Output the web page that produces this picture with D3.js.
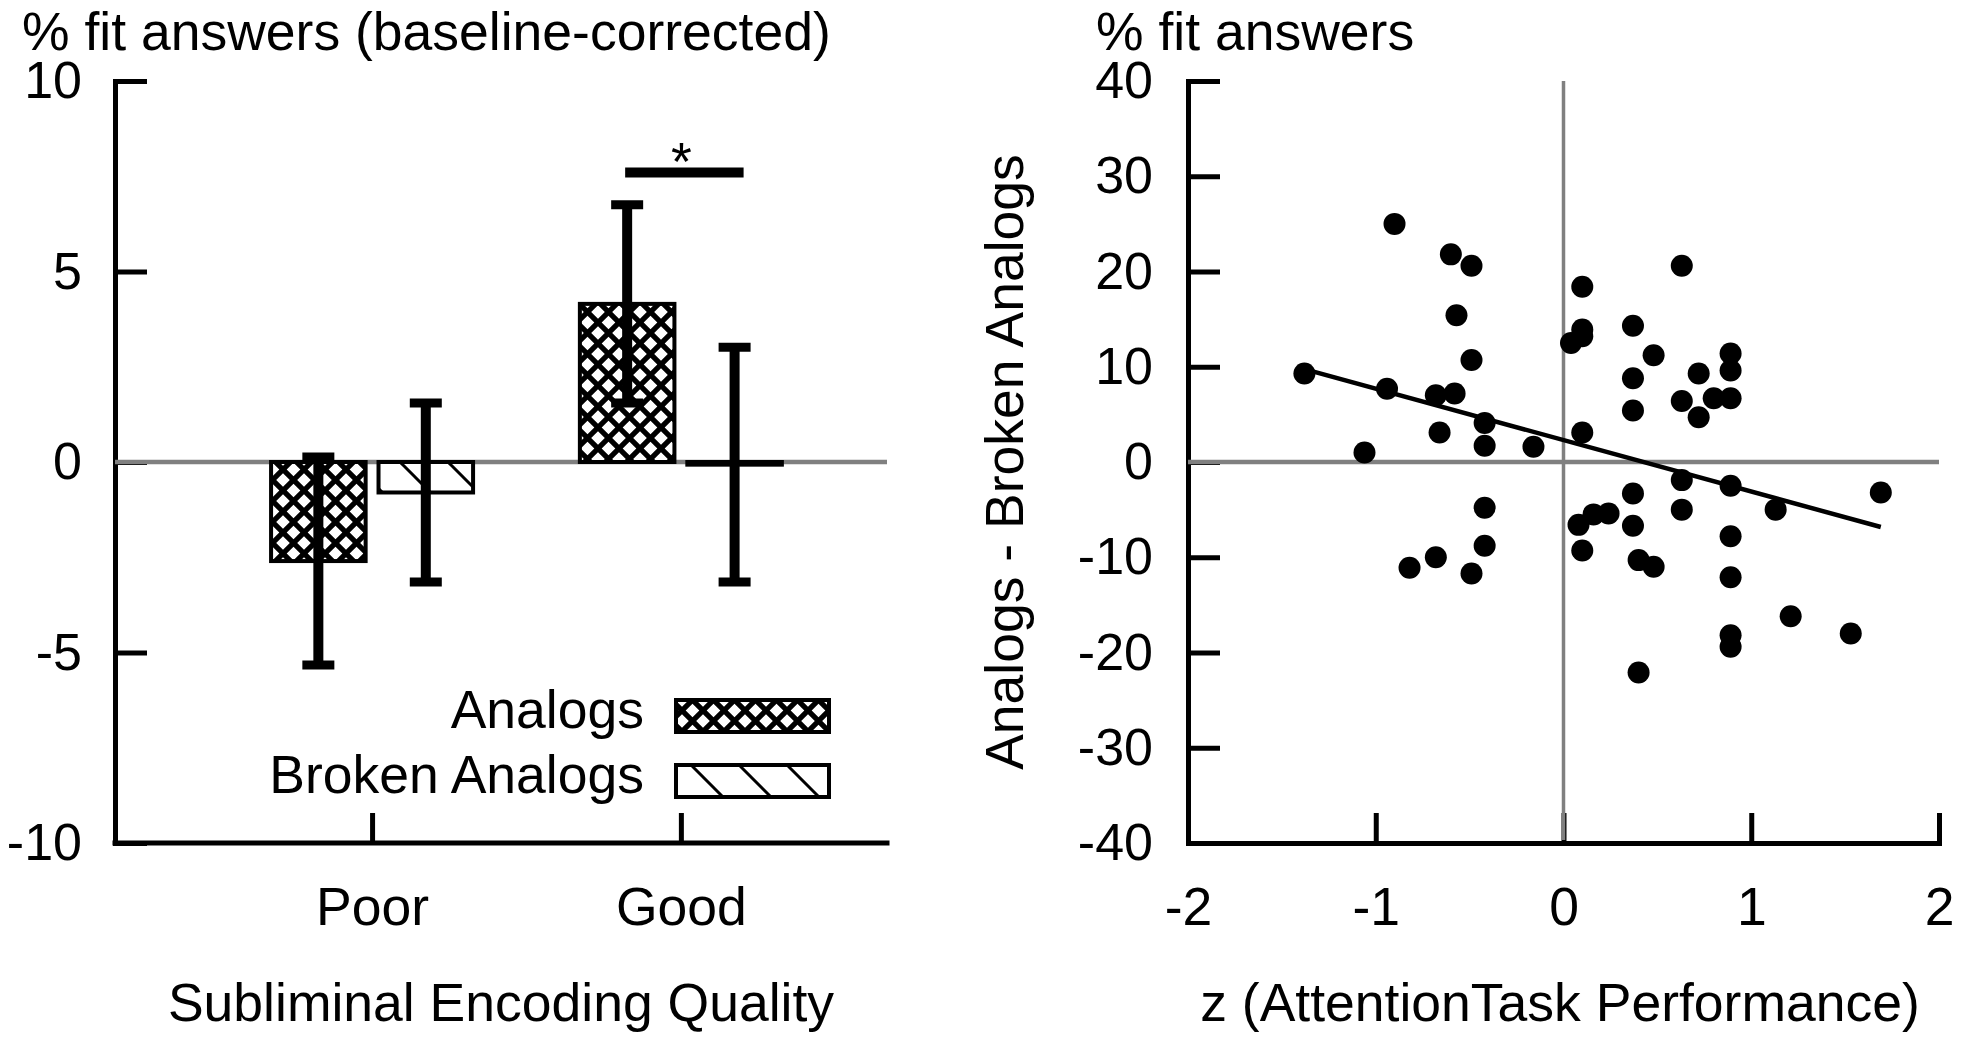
<!DOCTYPE html>
<html>
<head>
<meta charset="utf-8">
<script src="https://cdn.jsdelivr.net/npm/d3@7"></script>
<style>
	body { margin: 0; background: #fff; }
	svg text { font-family: 'Liberation Sans', Arial, sans-serif; font-size: 53.5px; fill: #000; }
	svg .y-ticks text { font-size: 52px; }
</style>
</head>
<body>
<svg id="chart"></svg>
<script>
// left panel: baseline-corrected % fit answers by encoding quality
const categories = ['Poor', 'Good']
const series = ['Analogs', 'Broken Analogs']
const analogMeans = [-2.6, 4.15]
const analogErrors = [2.73, 2.6]
const brokenMeans = [-0.8, -0.07]
const brokenErrors = [2.35, 3.08]
const barTicks = [-10, -5, 0, 5, 10]
const sigLevel = 7.6

// right panel: attention z-score vs Analogs minus Broken Analogs
const zScores = [
	-1.38, -0.9, -0.6, -0.49, -0.57, -0.49, -0.94, -0.68, -0.58, -0.66,
	-0.42, -0.42, -0.16, -1.06, -0.42, -0.42, -0.68, -0.82, -0.49,
	0.1, 0.1, 0.1, 0.04, 0.37, 0.63, 0.48, 0.37, 0.37, 0.89, 0.89,
	0.72, 0.63, 0.8, 0.89, 0.72, 0.1, 0.63, 0.89, 0.37, 0.63,
	1.13, 1.69, 0.24, 0.16, 0.08, 0.37, 0.1, 0.89, 0.4, 0.48,
	0.89, 1.21, 1.53, 0.89, 0.89, 0.4
]
const fitDiffs = [
	9.3, 25.0, 21.8, 20.6, 15.4, 10.7, 7.7, 7.0, 7.2, 3.1,
	4.1, 1.7, 1.6, 1.0, -4.8, -8.8, -10.0, -11.1, -11.7,
	18.4, 13.9, 13.2, 12.5, 14.3, 20.6, 11.2, 8.8, 5.4, 11.4, 9.6,
	9.3, 6.4, 6.7, 6.7, 4.7, 3.1, -1.9, -2.5, -3.3, -5.0,
	-5.0, -3.2, -5.4, -5.5, -6.6, -6.7, -9.3, -7.8, -10.3, -11.0,
	-12.1, -16.2, -18.0, -18.2, -19.4, -22.1
]
const fitSlope = -5.4
const fitIntercept = 2.3
const scatterXTicks = [-2, -1, 0, 1, 2]
const scatterYTicks = [-40, -30, -20, -10, 0, 10, 20, 30, 40]

const W = 1961
const H = 1043
const leftBox = { x: 115, y: 81, w: 772, h: 762 }
const rightBox = { x: 1188, y: 81, w: 751, h: 762 }
const GREY = '#808080'

const svg = d3.select('#chart').attr('width', W).attr('height', H)

const defs = svg.append('defs')

// white diamonds on black = the cross-hatch fill
const cross = defs.append('pattern')
	.attr('id', 'crossHatch')
	.attr('patternUnits', 'userSpaceOnUse')
	.attr('width', 21)
	.attr('height', 21)
cross.append('rect').attr('width', 21).attr('height', 21).attr('fill', '#000')
const diamond = (cx, cy, h) => `M${cx - h},${cy} L${cx},${cy - h} L${cx + h},${cy} L${cx},${cy + h} Z`
cross.append('path')
	.attr('fill', '#fff')
	.attr('d', [[10.5, 10.5], [0, 0], [21, 0], [0, 21], [21, 21]].map(p => diamond(p[0], p[1], 6.8)).join(' '))

const diag = defs.append('pattern')
	.attr('id', 'diagHatch')
	.attr('patternUnits', 'userSpaceOnUse')
	.attr('width', 48)
	.attr('height', 48)
diag.append('rect').attr('width', 48).attr('height', 48).attr('fill', '#fff')
diag.append('path')
	.attr('d', 'M-4,-4 L52,52 M-4,44 L4,52 M44,-4 L52,4')
	.attr('stroke', '#000')
	.attr('stroke-width', 3)

const fills = { 'Analogs': 'url(#crossHatch)', 'Broken Analogs': 'url(#diagHatch)' }

function styleAxis(g) {
	g.select('.domain').attr('stroke-width', 5).attr('stroke-linecap', 'square')
	g.selectAll('.tick line').attr('stroke-width', 5)
	g.attr('font-size', null).attr('font-family', null)
}

// ---------- left panel ----------
const lp = svg.append('g').attr('transform', `translate(${leftBox.x},${leftBox.y})`)

const xCat = d3.scalePoint()
	.domain(categories)
	.range([leftBox.w * 0.333, leftBox.w * 0.733])
const xSub = d3.scaleBand()
	.domain(series)
	.range([-101, 101])
	.paddingInner(0.12)
const yBar = d3.scaleLinear().domain([-10, 10]).range([leftBox.h, 0])

lp.append('g')
	.attr('class', 'y-ticks')
	.call(d3.axisLeft(yBar).tickValues(barTicks).tickFormat(d => String(d))
		.tickSizeInner(-32).tickSizeOuter(0).tickPadding(33))
	.call(styleAxis)

// point scale only spans the two categories, so the baseline is drawn across the full width
const xAxisG = lp.append('g')
	.attr('transform', `translate(0,${leftBox.h})`)
	.call(d3.axisBottom(xCat).tickSizeInner(-30).tickSizeOuter(0).tickPadding(44))
	.call(styleAxis)
xAxisG.select('.domain').remove()
xAxisG.append('line')
	.attr('x1', 0)
	.attr('x2', leftBox.w)
	.attr('stroke', '#000')
	.attr('stroke-width', 5)
	.attr('stroke-linecap', 'square')

lp.append('line')
	.attr('x1', 0)
	.attr('x2', leftBox.w)
	.attr('y1', yBar(0))
	.attr('y2', yBar(0))
	.attr('stroke', GREY)
	.attr('stroke-width', 4.5)

const barRows = categories.flatMap((c, i) => [
	{ cat: c, key: 'Analogs', mean: analogMeans[i], err: analogErrors[i] },
	{ cat: c, key: 'Broken Analogs', mean: brokenMeans[i], err: brokenErrors[i] }
])

lp.append('g')
	.selectAll('rect')
	.data(barRows)
	.join('rect')
	.attr('x', d => xCat(d.cat) + xSub(d.key))
	.attr('width', xSub.bandwidth())
	.attr('y', d => yBar(Math.max(0, d.mean)))
	.attr('height', d => Math.abs(yBar(d.mean) - yBar(0)))
	.attr('fill', d => fills[d.key])
	.attr('stroke', '#000')
	.attr('stroke-width', 4)

const errG = lp.append('g')
	.selectAll('g')
	.data(barRows)
	.join('g')
	.attr('transform', d => `translate(${xCat(d.cat) + xSub(d.key) + xSub.bandwidth() / 2},0)`)
errG.append('line')
	.attr('y1', d => yBar(d.mean - d.err))
	.attr('y2', d => yBar(d.mean + d.err))
	.attr('stroke', '#000')
	.attr('stroke-width', 10)
errG.selectAll('.cap')
	.data(d => [d.mean - d.err, d.mean + d.err])
	.join('line')
	.attr('class', 'cap')
	.attr('x1', -16)
	.attr('x2', 16)
	.attr('y1', v => yBar(v))
	.attr('y2', v => yBar(v))
	.attr('stroke', '#000')
	.attr('stroke-width', 9)

// significance marker over the Good pair
const sigX1 = xCat('Good') + xSub('Analogs') + xSub.bandwidth() / 2 - 2
const sigX2 = xCat('Good') + xSub('Broken Analogs') + xSub.bandwidth() / 2 + 9
lp.append('line')
	.attr('x1', sigX1)
	.attr('x2', sigX2)
	.attr('y1', yBar(sigLevel))
	.attr('y2', yBar(sigLevel))
	.attr('stroke', '#000')
	.attr('stroke-width', 10)
lp.append('text')
	.attr('x', (sigX1 + sigX2) / 2 - 3)
	.attr('y', yBar(sigLevel) + 8)
	.attr('text-anchor', 'middle')
	.text('*')

// legend
const legend = lp.append('g')
	.selectAll('g')
	.data(series)
	.join('g')
	.attr('transform', (d, i) => `translate(0,${619 + i * 65})`)
legend.append('rect')
	.attr('x', 561)
	.attr('y', 0)
	.attr('width', 153)
	.attr('height', 32)
	.attr('fill', d => fills[d])
	.attr('stroke', '#000')
	.attr('stroke-width', 4)
legend.append('text')
	.attr('x', 529)
	.attr('y', 28)
	.attr('text-anchor', 'end')
	.text(d => d)

svg.append('text').attr('x', 22).attr('y', 50).text('% fit answers (baseline-corrected)')
svg.append('text')
	.attr('x', 501)
	.attr('y', 1021)
	.attr('text-anchor', 'middle')
	.text('Subliminal Encoding Quality')

// ---------- right panel ----------
const rp = svg.append('g').attr('transform', `translate(${rightBox.x},${rightBox.y})`)

const xZ = d3.scaleLinear().domain([-2, 2]).range([0, rightBox.w])
const yD = d3.scaleLinear().domain([-40, 40]).range([rightBox.h, 0])

rp.append('g')
	.attr('class', 'y-ticks')
	.call(d3.axisLeft(yD).tickValues(scatterYTicks).tickFormat(d => String(d))
		.tickSizeInner(-32).tickSizeOuter(0).tickPadding(35))
	.call(styleAxis)

rp.append('g')
	.attr('transform', `translate(0,${rightBox.h})`)
	.call(d3.axisBottom(xZ).tickValues(scatterXTicks).tickFormat(d => String(d))
		.tickSizeInner(-30).tickSizeOuter(0).tickPadding(44))
	.call(styleAxis)

rp.append('line')
	.attr('x1', xZ(0))
	.attr('x2', xZ(0))
	.attr('y1', 0)
	.attr('y2', rightBox.h - 3)
	.attr('stroke', GREY)
	.attr('stroke-width', 3.5)
rp.append('line')
	.attr('x1', 0)
	.attr('x2', rightBox.w)
	.attr('y1', yD(0))
	.attr('y2', yD(0))
	.attr('stroke', GREY)
	.attr('stroke-width', 4.5)

const points = zScores.map((z, i) => ({ z, diff: fitDiffs[i] }))

rp.append('g')
	.selectAll('circle')
	.data(points)
	.join('circle')
	.attr('cx', d => xZ(d.z))
	.attr('cy', d => yD(d.diff))
	.attr('r', 11)
	.attr('fill', '#000')

const zRange = d3.extent(zScores)
rp.append('line')
	.attr('x1', xZ(zRange[0]))
	.attr('x2', xZ(zRange[1]))
	.attr('y1', yD(fitIntercept + fitSlope * zRange[0]))
	.attr('y2', yD(fitIntercept + fitSlope * zRange[1]))
	.attr('stroke', '#000')
	.attr('stroke-width', 4.5)

svg.append('text').attr('x', 1096).attr('y', 50).text('% fit answers')
svg.append('text')
	.attr('transform', 'translate(1023,462) rotate(-90)')
	.attr('text-anchor', 'middle')
	.text('Analogs - Broken Analogs')
svg.append('text')
	.attr('x', 1560)
	.attr('y', 1021)
	.attr('text-anchor', 'middle')
	.text('z (AttentionTask Performance)')
</script>
</body>
</html>
